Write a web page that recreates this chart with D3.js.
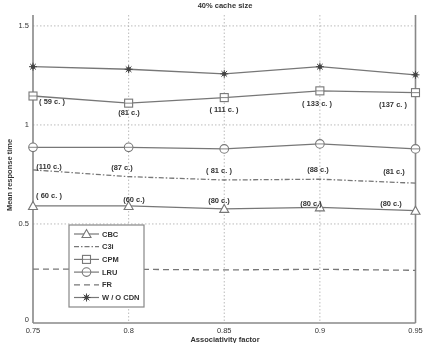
<!DOCTYPE html>
<html>
<head>
<meta charset="utf-8">
<script src="https://cdn.jsdelivr.net/npm/d3@7"></script>
<style>
  body { margin: 0; background: #fff; }
  svg { filter: blur(0.4px); }
  text { font-family: "Liberation Sans", Arial, sans-serif; fill: #333; }
</style>
</head>
<body>
<div id="chart"></div>
<script>
var width = 425;
var height = 343;

// x values (associativity factor)
var factors = [0.75, 0.8, 0.85, 0.9, 0.95];
var xTicks = ["0.75", "0.8", "0.85", "0.9", "0.95"];
var yTicks = [0, 0.5, 1, 1.5];

// series values
var woCdn = [1.294, 1.281, 1.258, 1.294, 1.253];
var cpm = [1.146, 1.110, 1.138, 1.172, 1.163];
var lru = [0.887, 0.887, 0.879, 0.904, 0.879];
var c3i = [0.773, 0.739, 0.722, 0.726, 0.706];
var cbc = [0.591, 0.591, 0.576, 0.584, 0.567];
var fr = [0.272, 0.271, 0.268, 0.271, 0.266];

// cache counts annotations
var cpmLabels = ["( 59 c. )", "(81 c.)", "( 111 c. )", "( 133 c. )", "(137 c. )"];
var midLabels = ["(110 c.)", "(87 c.)", "( 81 c. )", "(88 c.)", "(81 c.)"];
var cbcLabels = ["( 60 c. )", "(60 c.)", "(80 c.)", "(80 c.)", "(80 c.)"];

var legendNames = ["CBC", "C3i", "CPM", "LRU", "FR", "W / O CDN"];

var x = d3.scaleLinear().domain([0.75, 0.95]).range([33, 415.5]);
var y = d3.scaleLinear().domain([0, 1.555]).range([323, 15]);

var svg = d3.select("#chart")
    .append("svg")
    .attr("width", width)
    .attr("height", height);

// grid lines
svg.selectAll(".vgrid")
    .data(factors.slice(1, 4))
    .enter()
    .append("line")
    .attr("x1", function(d) { return x(d) })
    .attr("x2", function(d) { return x(d) })
    .attr("y1", y.range()[1])
    .attr("y2", y.range()[0])
    .attr("stroke", "#aaa")
    .attr("stroke-width", 0.8)
    .attr("stroke-dasharray", "1.5,2");

svg.selectAll(".hgrid")
    .data(yTicks.slice(1))
    .enter()
    .append("line")
    .attr("x1", x.range()[0])
    .attr("x2", x.range()[1])
    .attr("y1", function(d) { return y(d) })
    .attr("y2", function(d) { return y(d) })
    .attr("stroke", "#aaa")
    .attr("stroke-width", 0.8)
    .attr("stroke-dasharray", "1.5,2");

// axes frame (left, bottom, right)
var ax = svg.append("g").attr("stroke", "#888").attr("stroke-width", 1.6).attr("fill", "none");
ax.append("line").attr("x1", x.range()[0]).attr("x2", x.range()[0]).attr("y1", y.range()[1]).attr("y2", y.range()[0]);
ax.append("line").attr("x1", x.range()[1]).attr("x2", x.range()[1]).attr("y1", y.range()[1]).attr("y2", y.range()[0]);
ax.append("line").attr("x1", x.range()[0]).attr("x2", x.range()[1]).attr("y1", y.range()[0]).attr("y2", y.range()[0]);

// tick labels
svg.selectAll(".xt")
    .data(factors)
    .enter()
    .append("text")
    .attr("x", function(d) { return x(d) })
    .attr("y", 333)
    .attr("text-anchor", "middle")
    .attr("font-size", 7.5)
    .text(function(d, i) { return xTicks[i] });

svg.selectAll(".yt")
    .data(yTicks)
    .enter()
    .append("text")
    .attr("x", 29)
    .attr("y", function(d) { return d == 0 ? y(d) - 1 : y(d) + 2.5 })
    .attr("text-anchor", "end")
    .attr("font-size", 7.5)
    .text(function(d) { return d });

// title and axis labels
svg.append("text").attr("x", 225).attr("y", 8).attr("text-anchor", "middle")
    .attr("font-size", 7.5).attr("font-weight", "bold").text("40% cache size");
svg.append("text").attr("x", 225).attr("y", 342).attr("text-anchor", "middle")
    .attr("font-size", 7.5).attr("font-weight", "bold").text("Associativity factor");
svg.append("text").attr("transform", "translate(12,175) rotate(-90)").attr("text-anchor", "middle")
    .attr("font-size", 7.5).attr("font-weight", "bold").text("Mean response time");

var line = d3.line()
    .x(function(d, i) { return x(factors[i]) })
    .y(function(d) { return y(d) });

var series = [
    {name: "CBC", values: cbc, dash: null, marker: "triangle"},
    {name: "C3i", values: c3i, dash: "5,2,1.5,2", marker: null},
    {name: "CPM", values: cpm, dash: null, marker: "square"},
    {name: "LRU", values: lru, dash: null, marker: "circle"},
    {name: "FR", values: fr, dash: "6,4", marker: null},
    {name: "W / O CDN", values: woCdn, dash: null, marker: "star"}
];

function drawMarker(g, type, cx, cy) {
    if (type == "triangle") {
        g.append("path")
            .attr("d", "M" + cx + "," + (cy - 4.5) + "L" + (cx + 4.5) + "," + (cy + 3.5) + "L" + (cx - 4.5) + "," + (cy + 3.5) + "Z")
            .attr("fill", "#fff").attr("stroke", "#777").attr("stroke-width", 1.1);
    } else if (type == "square") {
        g.append("rect").attr("x", cx - 4).attr("y", cy - 4).attr("width", 8).attr("height", 8)
            .attr("fill", "#fff").attr("stroke", "#777").attr("stroke-width", 1.1);
        g.append("line").attr("x1", cx - 4).attr("x2", cx + 4).attr("y1", cy).attr("y2", cy)
            .attr("stroke", "#777").attr("stroke-width", 0.9);
    } else if (type == "circle") {
        g.append("circle").attr("cx", cx).attr("cy", cy).attr("r", 4.3)
            .attr("fill", "#fff").attr("stroke", "#777").attr("stroke-width", 1.1);
        g.append("line").attr("x1", cx - 4).attr("x2", cx + 4).attr("y1", cy).attr("y2", cy)
            .attr("stroke", "#777").attr("stroke-width", 0.9);
    } else if (type == "star") {
        g.append("circle").attr("cx", cx).attr("cy", cy).attr("r", 2.2).attr("fill", "#444");
        [0, 45, 90, 135].forEach(function(a) {
            var r = a * Math.PI / 180;
            g.append("line")
                .attr("x1", cx - 4 * Math.cos(r)).attr("x2", cx + 4 * Math.cos(r))
                .attr("y1", cy - 4 * Math.sin(r)).attr("y2", cy + 4 * Math.sin(r))
                .attr("stroke", "#444").attr("stroke-width", 1);
        });
    }
}

series.forEach(function(s) {
    svg.append("path")
        .datum(s.values)
        .attr("d", line)
        .attr("fill", "none")
        .attr("stroke", "#777")
        .attr("stroke-width", 1.3)
        .attr("stroke-dasharray", s.dash);
    if (s.marker) {
        var g = svg.append("g");
        s.values.forEach(function(v, i) {
            drawMarker(g, s.marker, x(factors[i]), y(v));
        });
    }
});

// annotations
var labelSets = [
    {labels: cpmLabels, pos: [[52, 104], [129, 115], [224, 112], [317, 106], [393, 107]]},
    {labels: midLabels, pos: [[49, 169], [122, 170], [219, 173], [318, 172], [394, 174]]},
    {labels: cbcLabels, pos: [[49, 198], [134, 202], [219, 203], [311, 206], [391, 206]]}
];
labelSets.forEach(function(set) {
    svg.selectAll(null)
        .data(set.labels)
        .enter()
        .append("text")
        .attr("x", function(d, i) { return set.pos[i][0] })
        .attr("y", function(d, i) { return set.pos[i][1] })
        .attr("text-anchor", "middle")
        .attr("font-size", 7.5)
        .attr("font-weight", "bold")
        .text(function(d) { return d });
});

// legend
var leg = svg.append("g");
leg.append("rect").attr("x", 69).attr("y", 225).attr("width", 75).attr("height", 82)
    .attr("fill", "#fff").attr("stroke", "#888").attr("stroke-width", 1.2);
series.forEach(function(s, i) {
    var ly = 234 + i * 12.7;
    leg.append("line").attr("x1", 74).attr("x2", 99).attr("y1", ly).attr("y2", ly)
        .attr("stroke", "#777").attr("stroke-width", 1.2).attr("stroke-dasharray", s.dash);
    if (s.marker) drawMarker(leg, s.marker, 86.5, ly);
    leg.append("text").attr("x", 102).attr("y", ly + 2.5).attr("font-size", 7.5)
        .attr("font-weight", "bold").text(legendNames[i]);
});
</script>
</body>
</html>
